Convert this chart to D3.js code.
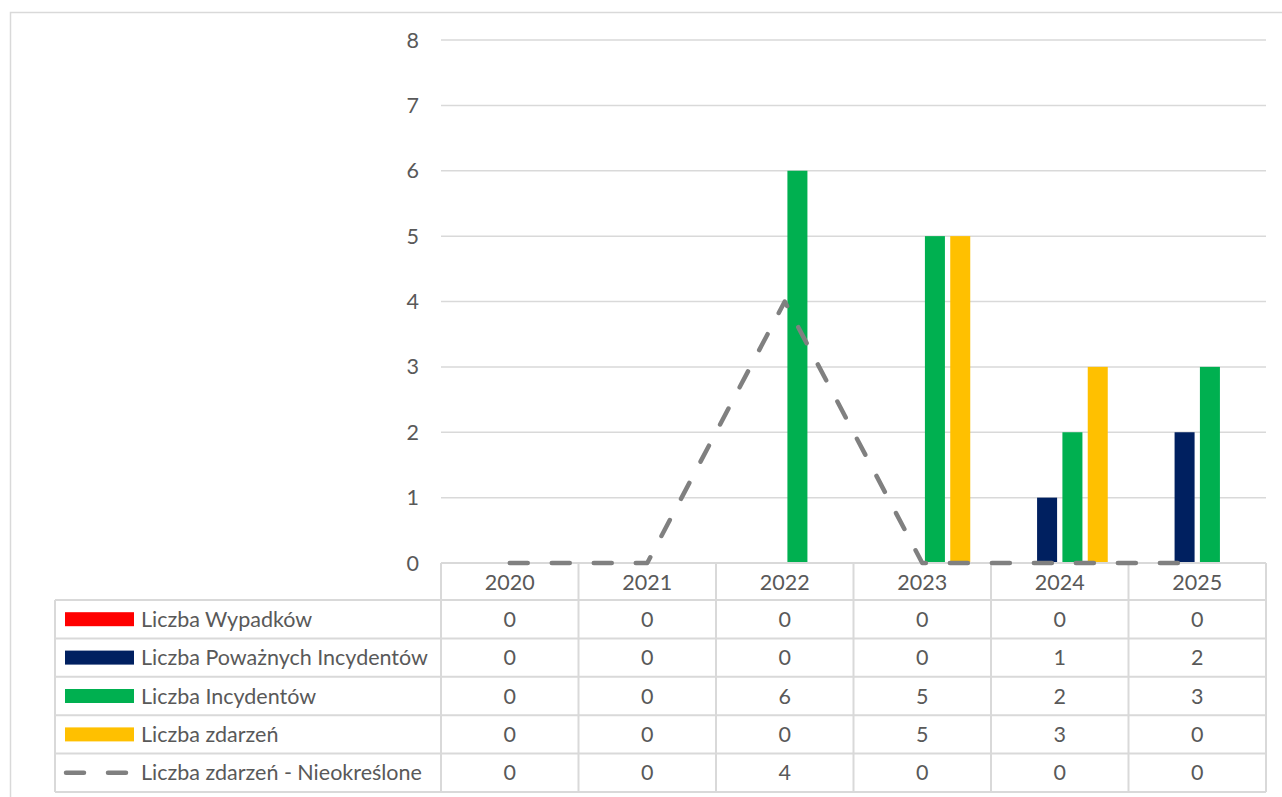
<!DOCTYPE html>
<html>
<head>
<meta charset="utf-8">
<script src="https://cdn.jsdelivr.net/npm/d3@7"></script>
<style>
  body { margin: 0; background: #fff; }
  svg text { font-family: Lato, "Open Sans", sans-serif; fill: #595959; }
</style>
</head>
<body>
<div id="mainDiv"></div>
<script>
'use strict';

var myApp = {};

// data
myApp.years = ["2020", "2021", "2022", "2023", "2024", "2025"];
myApp.seriesNames = ["Liczba Wypadków", "Liczba Poważnych Incydentów", "Liczba Incydentów", "Liczba zdarzeń"];
myApp.seriesColors = ["#ff0000", "#002060", "#00b050", "#ffc000"];
myApp.wypadki = [0, 0, 0, 0, 0, 0];
myApp.powazne = [0, 0, 0, 0, 1, 2];
myApp.incydenty = [0, 0, 6, 5, 2, 3];
myApp.zdarzenia = [0, 0, 0, 5, 3, 0];
myApp.lineName = "Liczba zdarzeń - Nieokreślone";
myApp.nieokreslone = [0, 0, 4, 0, 0, 0];
myApp.yTicks = [0, 1, 2, 3, 4, 5, 6, 7, 8];

myApp.run = function ()
{
    var W = 1282, H = 797;
    var left = 441, right = 1266, top = 40, bottom = 563;
    var tableLeft = 55, rowH = 38.4, headerBottom = 600;
    var grid = "#d9d9d9";
    var fs = "21.5px";

    var svg = d3.select("#mainDiv").append("svg")
        .attr("width", W)
        .attr("height", H);

    // chart frame
    svg.append("path")
        .attr("d", "M10.5," + (H + 5) + "V12.5H" + (W + 5))
        .attr("fill", "none")
        .attr("stroke", grid)
        .attr("stroke-width", 1.5);

    var x = d3.scaleBand().domain(myApp.years).range([left, right]);
    var y = d3.scaleLinear().domain([0, 8]).range([bottom, top]);
    var sub = d3.scaleBand().domain(d3.range(4)).range([0, 96]).paddingInner(0.21);

    // gridlines
    svg.append("g").selectAll("line")
        .data(myApp.yTicks.filter(function(d){ return d > 0; }))
        .enter().append("line")
            .attr("x1", left).attr("x2", right)
            .attr("y1", function(d){ return y(d); })
            .attr("y2", function(d){ return y(d); })
            .attr("stroke", grid)
            .attr("stroke-width", 1.5);

    // y tick labels
    svg.append("g").selectAll("text")
        .data(myApp.yTicks)
        .enter().append("text")
            .attr("x", 419)
            .attr("y", function(d){ return y(d); })
            .attr("dy", "0.35em")
            .attr("text-anchor", "end")
            .attr("font-size", fs)
            .text(function(d){ return d; });

    // bars
    var series = [myApp.wypadki, myApp.powazne, myApp.incydenty, myApp.zdarzenia];
    var offset = (x.bandwidth() - 96) / 2;
    series.forEach(function (vals, s)
    {
        svg.append("g").selectAll("rect")
            .data(vals)
            .enter().append("rect")
                .attr("x", function(d, i){ return x(myApp.years[i]) + offset + sub(s); })
                .attr("y", function(d){ return y(d); })
                .attr("width", sub.bandwidth())
                .attr("height", function(d){ return bottom - y(d); })
                .attr("fill", myApp.seriesColors[s]);
    });

    // table lines
    var rowYs = d3.range(6).map(function(i){ return headerBottom + i * rowH; });
    var tbl = svg.append("g").attr("stroke", grid).attr("stroke-width", 2).attr("fill", "none");
    tbl.append("line").attr("x1", left).attr("x2", right).attr("y1", bottom).attr("y2", bottom);
    rowYs.forEach(function (ry)
    {
        tbl.append("line").attr("x1", tableLeft).attr("x2", right).attr("y1", ry).attr("y2", ry);
    });
    tbl.append("line").attr("x1", tableLeft).attr("x2", tableLeft).attr("y1", headerBottom).attr("y2", rowYs[5]);
    myApp.years.forEach(function (yr)
    {
        tbl.append("line").attr("x1", x(yr)).attr("x2", x(yr)).attr("y1", bottom).attr("y2", rowYs[5]);
    });
    tbl.append("line").attr("x1", right).attr("x2", right).attr("y1", bottom).attr("y2", rowYs[5]);

    // dashed line series
    var line = d3.line()
        .x(function(d, i){ return x(myApp.years[i]) + x.bandwidth() / 2; })
        .y(function(d){ return y(d); });
    svg.append("path")
        .datum(myApp.nieokreslone)
        .attr("d", line)
        .attr("fill", "none")
        .attr("stroke", "#808080")
        .attr("stroke-width", 4.5)
        .attr("stroke-linecap", "round")
        .attr("stroke-linejoin", "round")
        .attr("stroke-dasharray", "18,24");

    // header row years
    svg.append("g").selectAll("text")
        .data(myApp.years)
        .enter().append("text")
            .attr("x", function(d){ return x(d) + x.bandwidth() / 2; })
            .attr("y", (bottom + headerBottom) / 2 + 1)
            .attr("dy", "0.35em")
            .attr("text-anchor", "middle")
            .attr("font-size", fs)
            .text(function(d){ return d; });

    // table rows
    var allRows = series.concat([myApp.nieokreslone]);
    var allNames = myApp.seriesNames.concat([myApp.lineName]);
    allRows.forEach(function (vals, r)
    {
        var cy = rowYs[r] + rowH / 2;
        var g = svg.append("g");
        if (r < 4)
        {
            g.append("rect")
                .attr("x", 65).attr("y", cy - 7)
                .attr("width", 69).attr("height", 14)
                .attr("fill", myApp.seriesColors[r]);
        }
        else
        {
            g.append("line")
                .attr("x1", 66).attr("x2", 133)
                .attr("y1", cy).attr("y2", cy)
                .attr("stroke", "#808080")
                .attr("stroke-width", 4.5)
                .attr("stroke-linecap", "round")
                .attr("stroke-dasharray", "18,24");
        }
        g.append("text")
            .attr("x", 141)
            .attr("y", cy)
            .attr("dy", "0.35em")
            .attr("font-size", fs)
            .text(allNames[r]);
        g.selectAll("text.val")
            .data(vals)
            .enter().append("text")
                .attr("class", "val")
                .attr("x", function(d, i){ return x(myApp.years[i]) + x.bandwidth() / 2; })
                .attr("y", cy)
                .attr("dy", "0.35em")
                .attr("text-anchor", "middle")
                .attr("font-size", fs)
                .text(function(d){ return d; });
    });
}

window.onload = myApp.run;
</script>
</body>
</html>
